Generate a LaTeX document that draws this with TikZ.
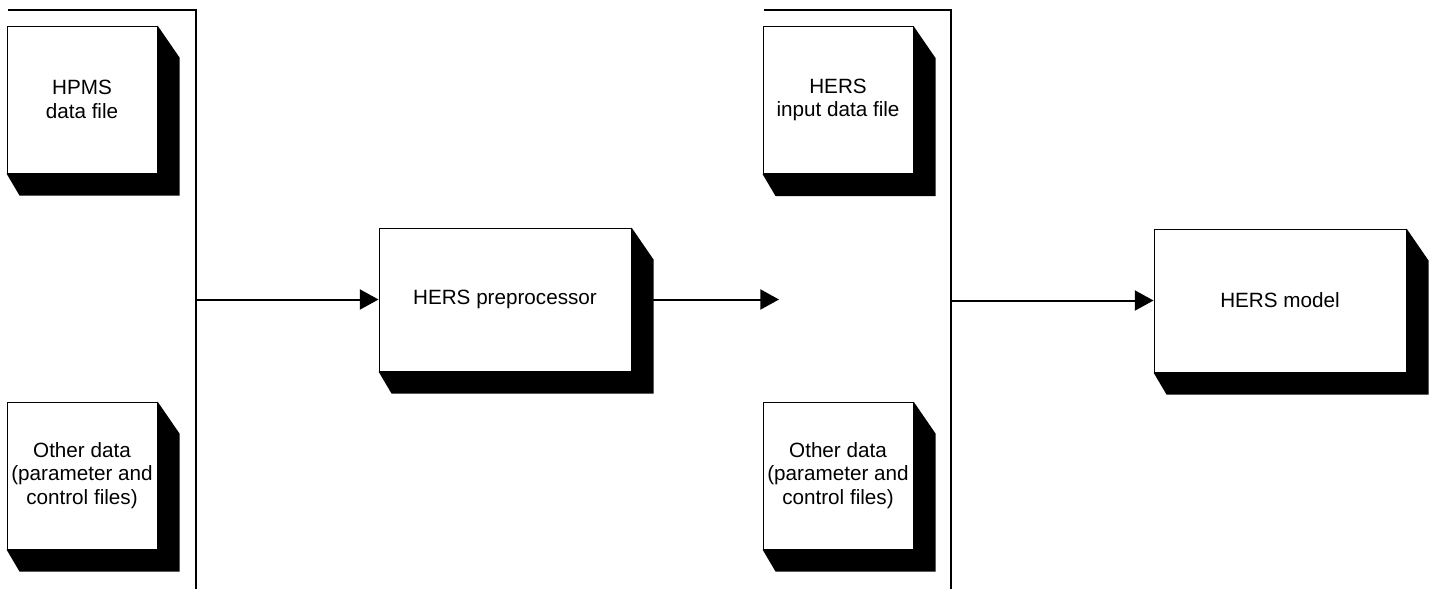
\documentclass[tikz,border=0pt]{standalone}
\usepackage{fontspec}
\setmainfont{Liberation Sans}
\usetikzlibrary{arrows.meta,calc}

\tikzset{
  filebox/.style={draw, line width=0.75pt, fill=white, inner sep=0pt, align=center,
    font=\fontsize{15.5}{17.5}\selectfont, minimum width=112.5pt, minimum height=110.25pt},
  procbox/.style={filebox, minimum width=189pt, minimum height=107.25pt},
  flowline/.style={line width=1.5pt, -{Triangle[length=14pt,width=15pt]}},
  bracket/.style={line width=1.5pt}
}
% extruded black shadow on the right and below a box
\newcommand{\boxshadow}[1]{%
  \fill (#1.north east) -- ($(#1.north east)+(22,32)$) -- ($(#1.south east)+(22,22)$)
    -- ($(#1.south west)+(13,22)$) -- (#1.south west) -- (#1.south east) -- cycle;}

\begin{document}
\begin{tikzpicture}[x=0.75pt,y=0.75pt,yscale=-1,xscale=1]
\useasboundingbox (0,0) rectangle (1432,589);

%Straight Lines [left bracket]
\draw [bracket] (8,10) -- (196,10) -- (196,589) ;
%Straight Lines [right bracket]
\draw [bracket] (764,10) -- (951,10) -- (951,589) ;

%Shape: Box [HPMS data]
\node [filebox] (hpms) at (82,99.5) {HPMS\\data file};
\boxshadow{hpms}
%Shape: Box [other data, first stage]
\node [filebox] (otherA) at (82,475.5) {Other data\\(parameter and\\control files)};
\boxshadow{otherA}
%Shape: Box [preprocessor]
\node [procbox] (prep) at (505,299.5) {HERS preprocessor};
\boxshadow{prep}
%Shape: Box [HERS input]
\node [filebox] (hinput) at (838,100) {HERS\\input data file};
\boxshadow{hinput}
%Shape: Box [other data, second stage]
\node [filebox] (otherB) at (838,475.5) {Other data\\(parameter and\\control files)};
\boxshadow{otherB}
%Shape: Box [model]
\node [procbox] (model) at (1280,300.5) {HERS model};
\boxshadow{model}

%Connector ends
\coordinate (joinA) at (196,299.5);
\coordinate (prepout) at (653,299.5);
\coordinate (hersin) at (779,299.5);
\coordinate (joinB) at (951,300.5);

%Straight Lines [arrows]
\draw [flowline] (joinA) -- (prep.west) ;
\draw [flowline] (prepout) -- (hersin) ;
\draw [flowline] (joinB) -- (model.west) ;

\end{tikzpicture}
\end{document}
